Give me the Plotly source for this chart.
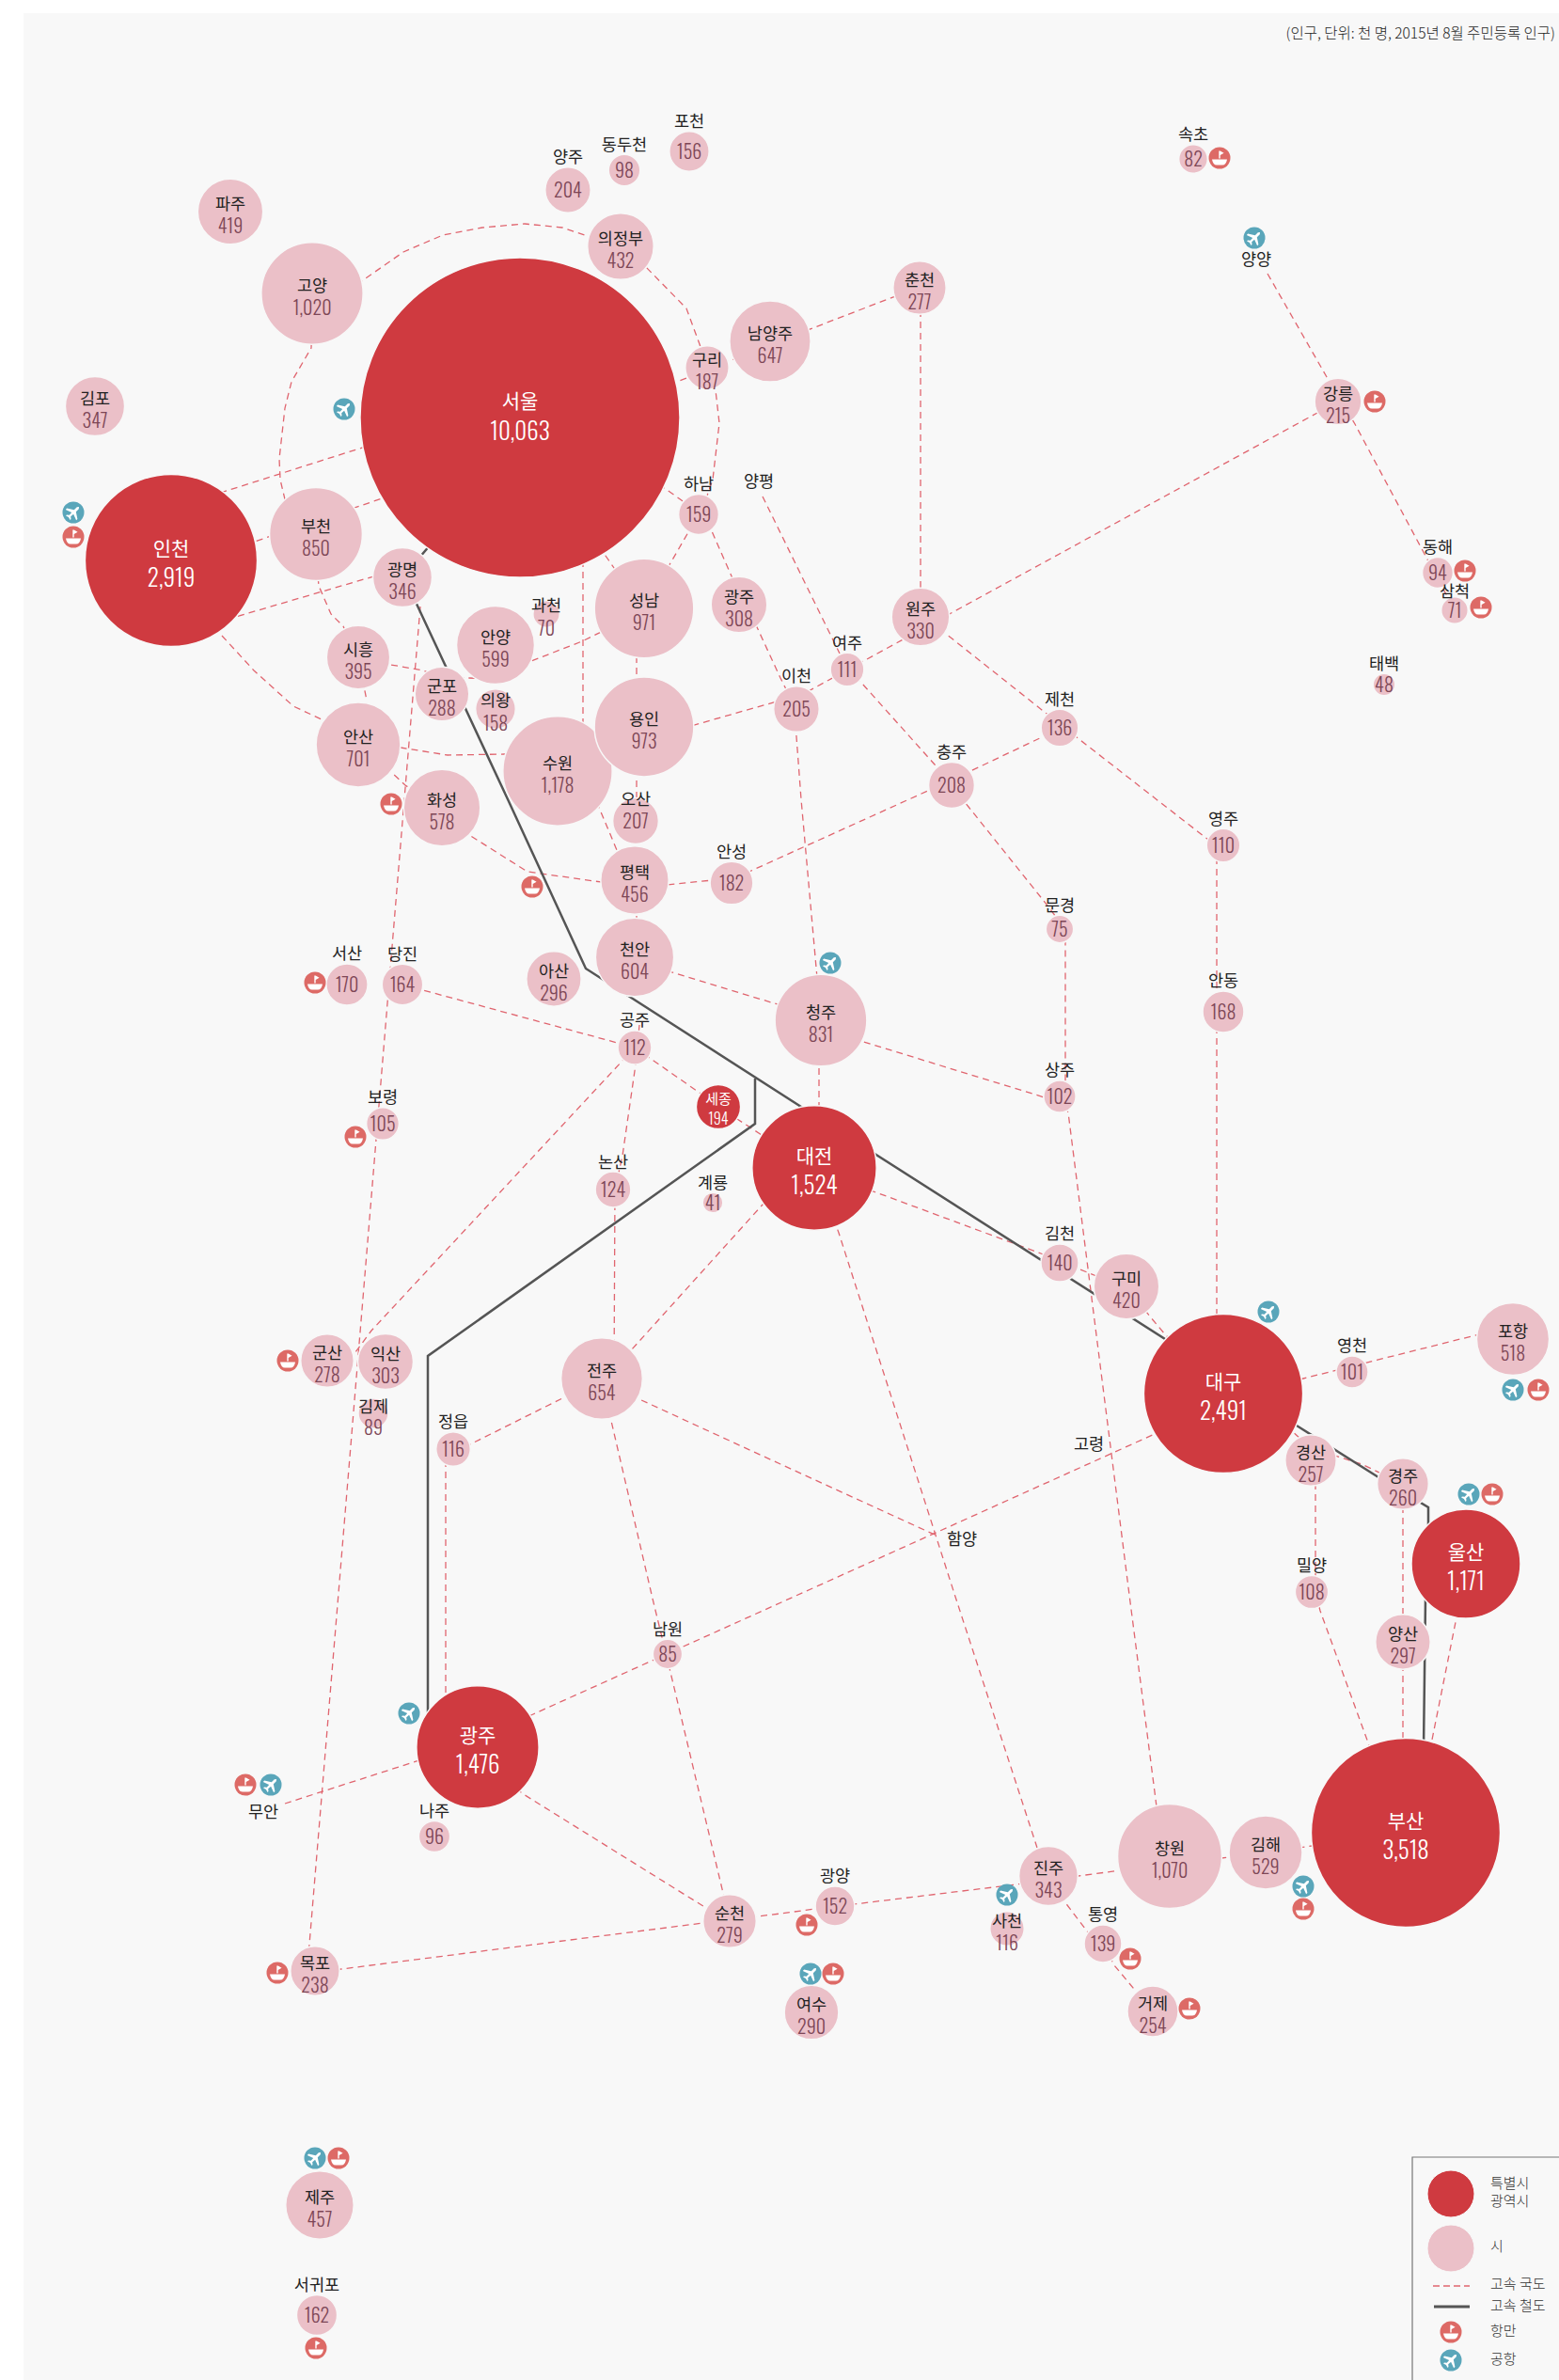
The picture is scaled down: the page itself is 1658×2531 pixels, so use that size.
import plotly.graph_objects as go

W, H = 1658, 2531

# ---- cities: name, population (thousands), map position, label style
names = ["서울","인천","대구","부산","대전","광주","울산","세종",
 "파주","고양","김포","의정부","남양주","구리","부천","광명","시흥","안양","성남","광주","군포","의왕","과천","안산","용인","수원","화성","평택","천안","아산",
 "군산","익산","김제","전주","청주","구미","포항","경산","경주","양산","창원","김해","진주","사천","거제","여수","순천","목포","제주","춘천","원주","강릉",
 "양주","동두천","포천","하남","오산","안성","서산","당진","공주","보령","논산","계룡","정읍","이천","여주","제천","충주","속초","동해","삼척","태백","영주","문경","안동","상주","김천","영천","밀양","남원","나주","광양","통영","서귀포"]
population = [10063,2919,2491,3518,1524,1476,1171,194,
 419,1020,347,432,647,187,850,346,395,599,971,308,288,158,70,701,973,1178,578,456,604,296,
 278,303,89,654,831,420,518,257,260,297,1070,529,343,116,254,290,279,238,457,277,330,215,
 204,98,156,159,207,182,170,164,112,105,124,41,116,205,111,136,208,82,94,71,48,110,75,168,102,140,101,108,85,96,152,139,162]
map_x = [553,182,1301,1495,866,508,1559,764,
 245,332,101,660,819,752,336,428,381,527,685,786,470,527,581,381,685,593,470,675,675,589,
 348,410,397,640,873,1198,1609,1394,1492,1492,1244,1346,1115,1071,1226,863,776,335,340,978,979,1423,
 604,664,733,743,676,778,369,428,675,407,652,758,482,847,901,1127,1012,1269,1529,1547,1472,1301,1127,1301,1127,1127,1438,1395,710,462,888,1173,337]
map_y = [444,596,1482,1949,1242,1858,1663,1177,
 225,312,432,262,363,391,568,614,699,686,647,643,738,754,653,792,773,820,859,936,1018,1041,
 1447,1448,1503,1466,1085,1368,1424,1553,1578,1746,1974,1970,1995,2051,2139,2140,2043,2096,2345,306,656,427,
 202,181,161,547,873,939,1047,1047,1114,1195,1265,1279,1541,754,712,774,835,169,609,649,728,899,988,1076,1166,1343,1459,1693,1759,1953,2027,2067,2462]
metro_count = 8          # the first eight are 특별시/광역시
inside_count = 52        # the first fifty-two carry their name inside the circle

# ---- places shown by name only
extra_names = ["양평","양양","고령","함양","무안"]
extra_x = [807,1336,1158,1023,280]
extra_y = [514,278,1538,1639,1929]

# ---- transport icons
airport_x = [366,78,1334,883,1349,1609,1562,435,288,335,1071,1386,862]
airport_y = [435,545,253,1024,1395,1478,1589,1822,1898,2295,2015,2006,2099]
port_x = [78,1297,1462,1558,1575,416,566,335,378,306,1636,1587,295,261,360,336,858,886,1202,1265,1386]
port_y = [571,168,427,607,646,855,943,1045,1209,1447,1478,1589,2098,1898,2295,2497,2047,2099,2083,2136,2030]

# ---- expressway routes
road_paths = [
 [(200,535),(420,465)],
 [(250,583),(430,522)],
 [(230,662),(428,604)],
 [(236,676),(270,713),(312,751),(344,766),(381,790)],
 [(332,340),(331,370),(310,406),(303,434),(297,488),(298,510),(303,531),(320,560)],
 [(340,330),(385,299),(429,268),(471,250),(513,242),(558,238),(598,242),(625,251),(660,262)],
 [(660,262),(687,284),(730,328),(744,366),(752,391),(761,415),(765,450),(758,510),(745,547)],
 [(690,418),(752,393),(820,366),(960,312),(978,305)],
 [(979,306),(979,656)],
 [(1423,427),(847,742)],
 [(847,740),(700,782)],
 [(1348,291),(1411,401),(1441,451),(1515,590),(1529,615),(1547,649)],
 [(811,528),(893,695)],
 [(900,712),(917,727),(994,813),(1012,835),(1030,858),(1110,958),(1133,988),(1133,1166)],
 [(1127,1166),(1136,1183),(1201,1696),(1229,1918),(1235,1960)],
 [(979,656),(1006,674),(1127,770),(1281,890),(1294,900)],
 [(1127,775),(1011,830),(790,930)],
 [(777,934),(700,942)],
 [(1294,900),(1294,1420)],
 [(846,770),(852,850),(869,1040)],
 [(871,1100),(871,1200)],
 [(873,1094),(1127,1172)],
 [(675,1022),(823,1067),(850,1075)],
 [(470,872),(499,888),(561,927),(639,938),(675,943)],
 [(381,795),(416,821),(431,835),(460,855)],
 [(390,790),(426,795),(476,803),(536,802),(590,802)],
 [(381,699),(416,707),(450,713),(470,720),(527,722),(565,703),(619,682),(660,662)],
 [(381,699),(390,745)],
 [(336,590),(339,623),(352,653),(365,666),(381,699)],
 [(620,560),(620,790)],
 [(625,560),(644,591),(653,604),(670,630)],
 [(677,650),(677,1018)],
 [(620,820),(638,861),(656,904),(670,920)],
 [(743,547),(712,600),(695,630)],
 [(743,547),(757,565),(779,615),(806,669),(830,721),(847,755)],
 [(690,510),(708,520),(743,545)],
 [(447,645),(328,2080)],
 [(428,1047),(450,1053),(656,1109),(675,1114)],
 [(675,1114),(395,1415),(378,1438)],
 [(675,1114),(746,1163),(784,1190),(830,1220)],
 [(680,1090),(676,1132),(662,1229),(654,1265),(653,1466)],
 [(830,1260),(672,1435),(640,1466)],
 [(640,1466),(500,1536),(482,1541)],
 [(474,1541),(474,1830)],
 [(640,1466),(650,1511),(694,1700),(712,1774),(769,2013),(776,2043)],
 [(640,1466),(680,1488),(830,1557),(994,1632)],
 [(508,1850),(567,1823),(1228,1525),(1300,1493)],
 [(866,1240),(892,1311),(1016,1698),(1103,1965),(1115,1995)],
 [(866,1252),(929,1267),(1107,1333),(1166,1357),(1198,1368),(1223,1400),(1239,1419),(1265,1445)],
 [(1301,1487),(1386,1466),(1609,1410)],
 [(1350,1500),(1394,1540),(1448,1557),(1492,1578)],
 [(1399,1553),(1399,1693),(1404,1713),(1456,1856),(1470,1890)],
 [(1492,1578),(1492,1860)],
 [(1555,1690),(1549,1720),(1523,1848),(1515,1890)],
 [(1495,1955),(1395,1963),(1346,1970),(1299,1976),(1244,1982),(1189,1989),(1147,1995),(1081,2004),(915,2024),(867,2030),(830,2035),(805,2038),(748,2045),(363,2094),(335,2097)],
 [(508,1858),(555,1907),(751,2029),(776,2043)],
 [(303,1918),(442,1873),(508,1852)],
 [(1115,1995),(1132,2022),(1157,2055),(1173,2067),(1185,2090),(1209,2119),(1226,2139)],
]

# ---- high-speed rail
rail_paths = [
 [(470,565),(428,614),(442,640),(540,850),(623,1030),(830,1163),(866,1186),(1239,1424),(1301,1482),(1379,1516),(1466,1571),(1519,1603),(1519,1622),(1516,1700),(1514,1860)],
 [(803,1147),(803,1195),(455,1442),(455,1840)],
]

# ---- legend and note text
legend_labels = ["특별시","광역시","시","고속 국도","고속 철도","항만","공항"]
legend_label_y = [2323,2342,2390,2430,2453,2480,2510]
note_text = "(인구, 단위: 천 명, 2015년 8월 주민등록 인구)"

# ---- styles
RED, PINK, BG = "#cf3a40", "#ebc0c8", "#f8f8f8"
ROAD, RAIL = "#e0656f", "#555555"
PORT, AIR = "#dd6a66", "#5aa6ba"
KR = "'Noto Sans CJK KR', 'Noto Sans', sans-serif"
NUM = "Oswald, 'Roboto Condensed', 'Liberation Sans Narrow', 'Liberation Sans', sans-serif"
AREA_REF = 0.174


def polyline(paths):
    xs, ys = [], []
    for p in paths:
        xs += [a for a, _ in p] + [None]
        ys += [b for _, b in p] + [None]
    return xs, ys


fig = go.Figure()
rx, ry = polyline(road_paths)
fig.add_trace(go.Scatter(x=rx, y=ry, mode="lines", hoverinfo="skip",
                         line=dict(color=ROAD, width=1.3, dash="7px,5px")))
lx, ly = polyline(rail_paths)
fig.add_trace(go.Scatter(x=lx, y=ly, mode="lines", hoverinfo="skip",
                         line=dict(color=RAIL, width=2.5)))
order = sorted(range(len(names)), key=lambda i: -population[i])
fig.add_trace(go.Scatter(
    x=[map_x[i] for i in order], y=[map_y[i] for i in order], mode="markers",
    text=[names[i] for i in order], hoverinfo="text",
    marker=dict(size=[population[i] for i in order], sizemode="area", sizeref=AREA_REF,
                color=[RED if i < metro_count else PINK for i in order],
                line=dict(color=BG, width=1.5), opacity=1)))

name_dy_override = {"서울": -15.5, "과천": -7, "의왕": -7, "김제": -5, "사천": -6}
value_dy_override = {"서울": 18, "세종": 15}
name_y_override = {"오산": 852, "삼척": 631}

nm_x, nm_y, nm_t, nm_s, nm_c, val_x, val_y, val_t, val_s, val_c = ([] for _ in range(10))
for i, (n, p, x, y) in enumerate(zip(names, population, map_x, map_y)):
    metro = i < metro_count
    r = 1.695 * p ** 0.5
    if i < inside_count:
        if metro and n != "세종":
            dy_n, dy_v = -10.5, 22
        elif n == "세종":
            dy_n, dy_v = -7, 15
        else:
            dy_n, dy_v = -6.5, 18
        dy_n = name_dy_override.get(n, dy_n)
        dy_v = value_dy_override.get(n, dy_v)
        ny = y + dy_n
    else:
        ny = name_y_override.get(n, y - r - 9)
        dy_v = 2.5
    nm_x.append(x); nm_y.append(ny); nm_t.append(n)
    nm_s.append(15 if n == "세종" else 21 if metro else 17.5)
    nm_c.append("#ffffff" if metro else "#222222")
    val_x.append(x); val_y.append(y + dy_v); val_t.append(f"{p:,}")
    val_s.append(16 if n == "세종" else 25 if metro else 20)
    val_c.append("#ffffff" if metro else "#7d4656")

# transport icon discs
fig.add_trace(go.Scatter(x=port_x, y=port_y, mode="markers", hoverinfo="skip",
                         marker=dict(size=23, color=PORT)))
fig.add_trace(go.Scatter(x=airport_x, y=airport_y, mode="markers", hoverinfo="skip",
                         marker=dict(size=23, color=AIR)))
# legend marks
LEG_X = 1543
fig.add_trace(go.Scatter(x=[LEG_X, LEG_X], y=[2333, 2391], mode="markers", hoverinfo="skip",
                         marker=dict(size=50, color=[RED, PINK], line=dict(color=BG, width=1))))
fig.add_trace(go.Scatter(x=[1524, 1563], y=[2431, 2431], mode="lines", hoverinfo="skip",
                         line=dict(color=ROAD, width=1.6, dash="7px,4px")))
fig.add_trace(go.Scatter(x=[1525, 1563], y=[2453, 2453], mode="lines", hoverinfo="skip",
                         line=dict(color=RAIL, width=2.8)))
fig.add_trace(go.Scatter(x=[LEG_X], y=[2480], mode="markers", hoverinfo="skip",
                         marker=dict(size=23, color=PORT)))
fig.add_trace(go.Scatter(x=[LEG_X], y=[2510], mode="markers", hoverinfo="skip",
                         marker=dict(size=23, color=AIR)))

# labels
fig.add_trace(go.Scatter(x=nm_x, y=nm_y, text=nm_t, mode="text", hoverinfo="skip",
                         textposition="middle center",
                         textfont=dict(family=KR, size=nm_s, color=nm_c, weight=400)))
fig.add_trace(go.Scatter(x=val_x, y=val_y, text=val_t, mode="text", hoverinfo="skip",
                         textposition="middle center",
                         textfont=dict(family=NUM, size=val_s, color=val_c, weight=300)))
fig.add_trace(go.Scatter(x=extra_x, y=extra_y, text=extra_names, mode="text", hoverinfo="skip",
                         textposition="middle center",
                         textfont=dict(family=KR, size=17.5, color="#222222", weight=400)))
fig.add_trace(go.Scatter(x=[1585] * len(legend_labels), y=legend_label_y, text=legend_labels,
                         mode="text", hoverinfo="skip", textposition="middle right",
                         textfont=dict(family=KR, size=15, color="#333333", weight=300)))
fig.add_trace(go.Scatter(x=[1654], y=[37], text=[note_text], mode="text", hoverinfo="skip",
                         textposition="middle left",
                         textfont=dict(family=KR, size=15.5, color="#222222", weight=300)))


# white glyphs on the icon discs (shape of the glyph only, placed from the icon arrays)
def rot45(px, py):
    c = 0.7071
    return (px * c - py * c, px * c + py * c)


PLANE = [(0, -8.5), (1.4, -6.8), (1.4, -2.6), (8, 1.8), (8, 3.6), (1.4, 1.2), (1.1, 5), (3.2, 6.8), (3.2, 8),
         (0, 7.2), (-3.2, 8), (-3.2, 6.8), (-1.1, 5), (-1.4, 1.2), (-8, 3.6), (-8, 1.8), (-1.4, -2.6), (-1.4, -6.8)]


def plane_path(cx, cy):
    pts = [rot45(a, b) for a, b in PLANE]
    return "M" + " L".join(f"{cx + a:.1f},{cy + b:.1f}" for a, b in pts) + " Z "


def boat_path(cx, cy):
    f = lambda a, b: f"{cx + a:.1f},{cy + b:.1f}"
    return (f"M{f(-8, 1.6)} L{f(8, 1.6)} Q{f(7, 7.6)} {f(3, 7.6)} L{f(-3, 7.6)} Q{f(-7, 7.6)} {f(-8, 1.6)} Z "
            f"M{f(-0.7, -7.5)} L{f(0.7, -7.5)} L{f(4.6, -5.2)} L{f(0.7, -3)} L{f(0.7, 0.4)} L{f(-0.7, 0.4)} Z ")


plane_d = "".join(plane_path(a, b) for a, b in list(zip(airport_x, airport_y)) + [(LEG_X, 2510)])
boat_d = "".join(boat_path(a, b) for a, b in list(zip(port_x, port_y)) + [(LEG_X, 2480)])

shapes = [
    dict(type="rect", xref="x", yref="y", x0=25, x1=W, y0=14, y1=H, fillcolor=BG, line_width=0, layer="below"),
    dict(type="rect", xref="x", yref="y", x0=1502, x1=W + 10, y0=2294, y1=H + 10,
         line=dict(color="#777777", width=1.2), layer="below"),
    dict(type="path", xref="x", yref="y", path=plane_d, fillcolor="#ffffff", line_width=0, layer="above"),
    dict(type="path", xref="x", yref="y", path=boat_d, fillcolor="#ffffff", line_width=0, layer="above"),
]

fig.update_layout(
    width=W, height=H, autosize=False, showlegend=False,
    margin=dict(l=0, r=0, t=0, b=0), paper_bgcolor="#ffffff", plot_bgcolor="rgba(0,0,0,0)",
    xaxis=dict(range=[0, W], visible=False, fixedrange=True),
    yaxis=dict(range=[H, 0], visible=False, fixedrange=True),
    shapes=shapes, font=dict(family=KR),
)
fig.write_html("out.html", config=dict(displayModeBar=False),
               post_script="document.body.style.margin='0';document.body.style.overflow='hidden';")
